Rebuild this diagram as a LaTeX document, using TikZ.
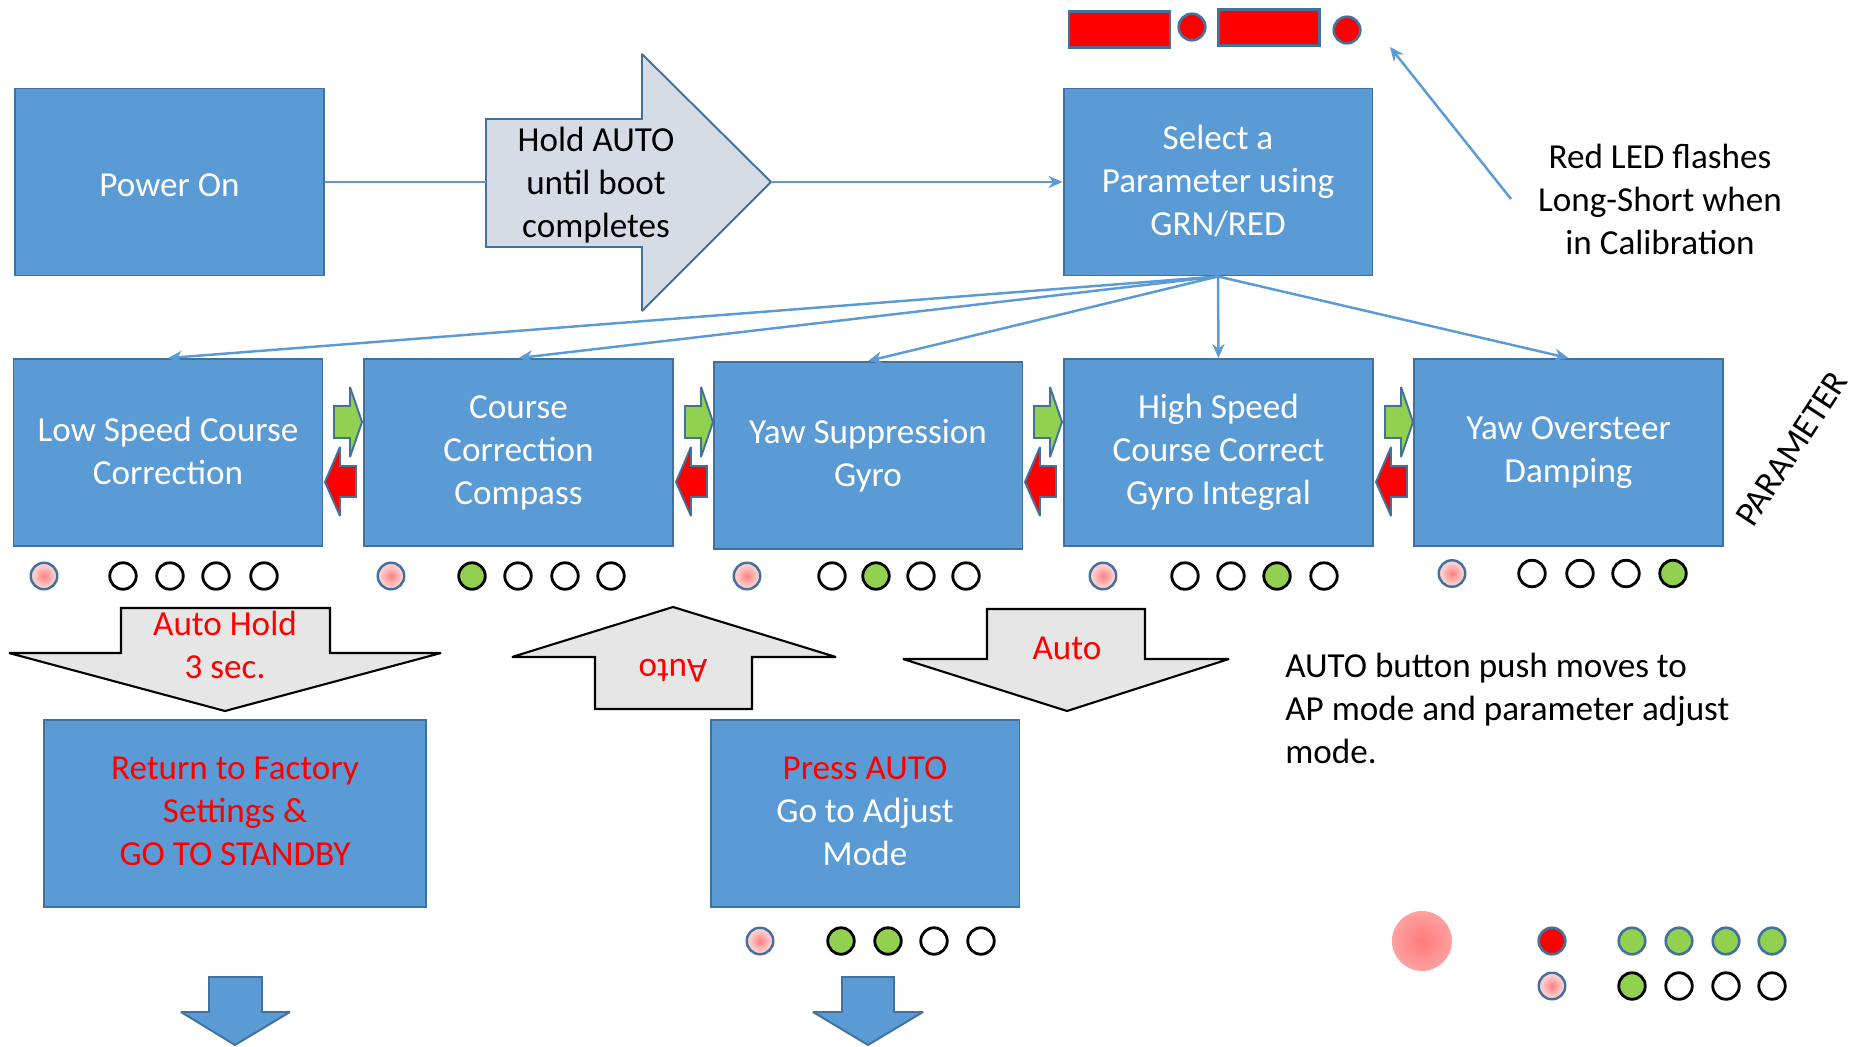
\documentclass[tikz,border=0pt]{standalone}
\usepackage{fontspec}
\setmainfont{Carlito}
\usepackage{tikz}
\usetikzlibrary{arrows.meta}

\definecolor{boxblue}{HTML}{5B9BD5}
\definecolor{edgeblue}{HTML}{41719C}
\definecolor{ledgreen}{HTML}{92D050}
\definecolor{arrowgray}{HTML}{E7E6E6}
\definecolor{holdgray}{HTML}{D6DCE5}

\newcommand{\boxstrut}{\rule[-2.4pt]{0pt}{21.4pt}}

\pgfdeclareradialshading{ledglow}{\pgfpoint{0bp}{0bp}}{color(0bp)=(red!50); color(18bp)=(red!22); color(40bp)=(red!4); color(50bp)=(red!4)}
\pgfdeclareradialshading{bigglow}{\pgfpoint{0bp}{0bp}}{color(0bp)=(red!52); color(50bp)=(red!22)}

\tikzset{
  txt/.style={align=center, inner sep=0pt, font=\fontsize{20}{24.5}\selectfont,
    execute at begin node=\boxstrut, execute at end node=\boxstrut},
  pbox/.style={txt, rectangle, fill=boxblue, draw=edgeblue, line width=1.1pt,
    minimum width=6.18cm, minimum height=3.74cm, text=white},
  conn/.style={draw=boxblue, line width=1.4pt},
  tip/.style={-{Stealth[length=8pt,width=7pt]}},
  grayarrow/.style={fill=arrowgray, draw=black, line width=1.2pt, miter limit=1.5},
  bluearrow/.style={fill=boxblue, draw=edgeblue, line width=1.1pt, miter limit=1.5},
  gostep/.style={fill=ledgreen, draw=edgeblue, line width=1.1pt, miter limit=1.5},
  backstep/.style={fill=red, draw=edgeblue, line width=1.1pt, miter limit=1.5},
  led/.style={circle, inner sep=0pt, minimum size=0.53cm, draw=black, line width=1.6pt, fill=white},
  ledon/.style={led, fill=ledgreen},
  ledpink/.style={led, draw=edgeblue, line width=1.4pt, shading=ledglow},
  ledred/.style={led, draw=edgeblue, line width=1.5pt, fill=red},
  ledgrn/.style={led, draw=edgeblue, line width=1.5pt, fill=ledgreen},
  redbar/.style={rectangle, inner sep=0pt, minimum width=2.02cm, minimum height=0.72cm, draw=edgeblue, line width=1.5pt, fill=red}
}

\begin{document}
\begin{tikzpicture}[x=0.02cm, y=-0.02cm]
\useasboundingbox (0,0) rectangle (1854,1046);

% top row
\node[pbox] (power) at (169.5,182) {Power On};
\node[pbox] (sel) at (1218,182) {Select a\\Parameter using\\GRN/RED};

\draw[fill=holdgray, draw=edgeblue, line width=1.1pt, miter limit=1.5] (486,119) -- (642,119) -- (642,54) -- (771,182) -- (642,311) -- (642,247) -- (486,247) -- cycle;
\node[txt] (hold) at (596,185) {Hold AUTO\\until boot\\completes};
\coordinate (holdin) at (486,182);
\coordinate (holdout) at (771,182);
\draw[conn] (power.east) -- (holdin);
\draw[conn, tip] (holdout) -- (sel.west);

% calibration flash
\node[redbar] (bar1) at (1119.5,29.5) {};
\node[ledred] (dot1) at (1192,27) {};
\node[redbar] (bar2) at (1269,27.5) {};
\node[ledred] (dot2) at (1347,30) {};
\node[txt] (redtxt) at (1660,201) {Red LED flashes\\Long-Short when\\in Calibration};
\coordinate (redtail) at (1511,199);
\coordinate (redtip) at (1390,47);
\draw[conn, tip] (redtail) -- (redtip);

% parameters
\node[pbox] (p1) at (168,452.5) {Low Speed Course\\Correction};
\node[pbox] (p2) at (518.5,452.5) {Course\\Correction\\Compass};
\node[pbox] (p3) at (868,455.5) {Yaw Suppression\\Gyro};
\node[pbox] (p4) at (1218.5,452.5) {High Speed\\Course Correct\\Gyro Integral};
\node[pbox] (p5) at (1568.5,452.5) {Yaw Oversteer\\Damping};
\node[txt, rotate=57, execute at begin node={}, execute at end node={}] (partxt) at (1789,447) {PARAMETER};

\draw[conn, tip] (sel.south) -- (p1.north);
\draw[conn, tip] (sel.south) -- (p2.north);
\draw[conn, tip] (sel.south) -- (p3.north);
\draw[conn, tip] (sel.south) -- (p4.north);
\draw[conn, tip] (sel.south) -- (p5.north);

% next / previous
\draw[gostep, shift={(322,0)}] (12,406) -- (28,406) -- (28,387) -- (40,422) -- (28,457) -- (28,438) -- (12,438) -- cycle;
\draw[backstep, shift={(322,0)}] (34,466) -- (18,466) -- (18,447) -- (3,482) -- (18,516) -- (18,497) -- (34,497) -- cycle;
\draw[gostep, shift={(673,0)}] (12,406) -- (28,406) -- (28,387) -- (40,422) -- (28,457) -- (28,438) -- (12,438) -- cycle;
\draw[backstep, shift={(673,0)}] (34,466) -- (18,466) -- (18,447) -- (3,482) -- (18,516) -- (18,497) -- (34,497) -- cycle;
\draw[gostep, shift={(1022,0)}] (12,406) -- (28,406) -- (28,387) -- (40,422) -- (28,457) -- (28,438) -- (12,438) -- cycle;
\draw[backstep, shift={(1022,0)}] (34,466) -- (18,466) -- (18,447) -- (3,482) -- (18,516) -- (18,497) -- (34,497) -- cycle;
\draw[gostep, shift={(1373,0)}] (12,406) -- (28,406) -- (28,387) -- (40,422) -- (28,457) -- (28,438) -- (12,438) -- cycle;
\draw[backstep, shift={(1373,0)}] (34,466) -- (18,466) -- (18,447) -- (3,482) -- (18,516) -- (18,497) -- (34,497) -- cycle;

% leds under parameters
\node[ledpink] (a0) at (44,576) {};
\node[led] (a1) at (123,576) {};
\node[led] (a2) at (170,576) {};
\node[led] (a3) at (216,576) {};
\node[led] (a4) at (264,576) {};
\node[ledpink] (b0) at (391,576) {};
\node[ledon] (b1) at (472,576) {};
\node[led] (b2) at (518,576) {};
\node[led] (b3) at (565,576) {};
\node[led] (b4) at (611,576) {};
\node[ledpink] (c0) at (747,576) {};
\node[led] (c1) at (832,576) {};
\node[ledon] (c2) at (876,576) {};
\node[led] (c3) at (921,576) {};
\node[led] (c4) at (966,576) {};
\node[ledpink] (d0) at (1103,576) {};
\node[led] (d1) at (1185,576) {};
\node[led] (d2) at (1231,576) {};
\node[ledon] (d3) at (1277,576) {};
\node[led] (d4) at (1324,576) {};
\node[ledpink] (e0) at (1452,573.5) {};
\node[led] (e1) at (1532,573.5) {};
\node[led] (e2) at (1580,573.5) {};
\node[led] (e3) at (1626,573.5) {};
\node[ledon] (e4) at (1673,573.5) {};

% button actions
\draw[grayarrow] (121,608) -- (330,608) -- (330,653) -- (441,653) -- (225,711) -- (9,653) -- (121,653) -- cycle;
\node[txt, text=red] (holdtxt) at (225,647) {Auto Hold\\3 sec.};
\draw[grayarrow] (673,607) -- (836,657) -- (752,657) -- (752,709) -- (595,709) -- (595,657) -- (512,657) -- cycle;
\node[txt, text=red, rotate=180] (uptxt) at (673,674) {Auto};
\draw[grayarrow] (987,609) -- (1145,609) -- (1145,659) -- (1229,659) -- (1067,711) -- (903,659) -- (987,659) -- cycle;
\node[txt, text=red] (downtxt) at (1067,645) {Auto};
\node[txt, anchor=west, align=left] (autotxt) at (1285,710) {AUTO button push moves to\\AP mode and parameter adjust\\mode.};

% bottom boxes
\node[pbox, minimum width=7.64cm, text=red] (factory) at (235,813.5) {Return to Factory\\Settings \&\\GO TO STANDBY};
\node[pbox] (adjust) at (865,813.5) {\textcolor{red}{Press AUTO}\\Go to Adjust\\Mode};

\node[ledpink] (f0) at (760,941) {};
\node[ledon] (f1) at (841,941) {};
\node[ledon] (f2) at (888,941) {};
\node[led] (f3) at (934,941) {};
\node[led] (f4) at (981,941) {};

\draw[bluearrow] (209,977) -- (262,977) -- (262,1012) -- (290,1012) -- (235,1045) -- (181,1012) -- (209,1012) -- cycle;
\draw[bluearrow] (842,977) -- (894,977) -- (894,1012) -- (923,1012) -- (868,1045) -- (813,1012) -- (842,1012) -- cycle;

% legend
\node[circle, minimum size=1.2cm, inner sep=0pt, shading=bigglow] (blob) at (1422,941) {};
\node[ledred] (g0) at (1552,941) {};
\node[ledgrn] (g1) at (1632,941) {};
\node[ledgrn] (g2) at (1679,941) {};
\node[ledgrn] (g3) at (1726,941) {};
\node[ledgrn] (g4) at (1772,941) {};
\node[ledpink] (h0) at (1552,986) {};
\node[ledon] (h1) at (1632,986) {};
\node[led] (h2) at (1679,986) {};
\node[led] (h3) at (1726,986) {};
\node[led] (h4) at (1772,986) {};
\end{tikzpicture}
\end{document}
